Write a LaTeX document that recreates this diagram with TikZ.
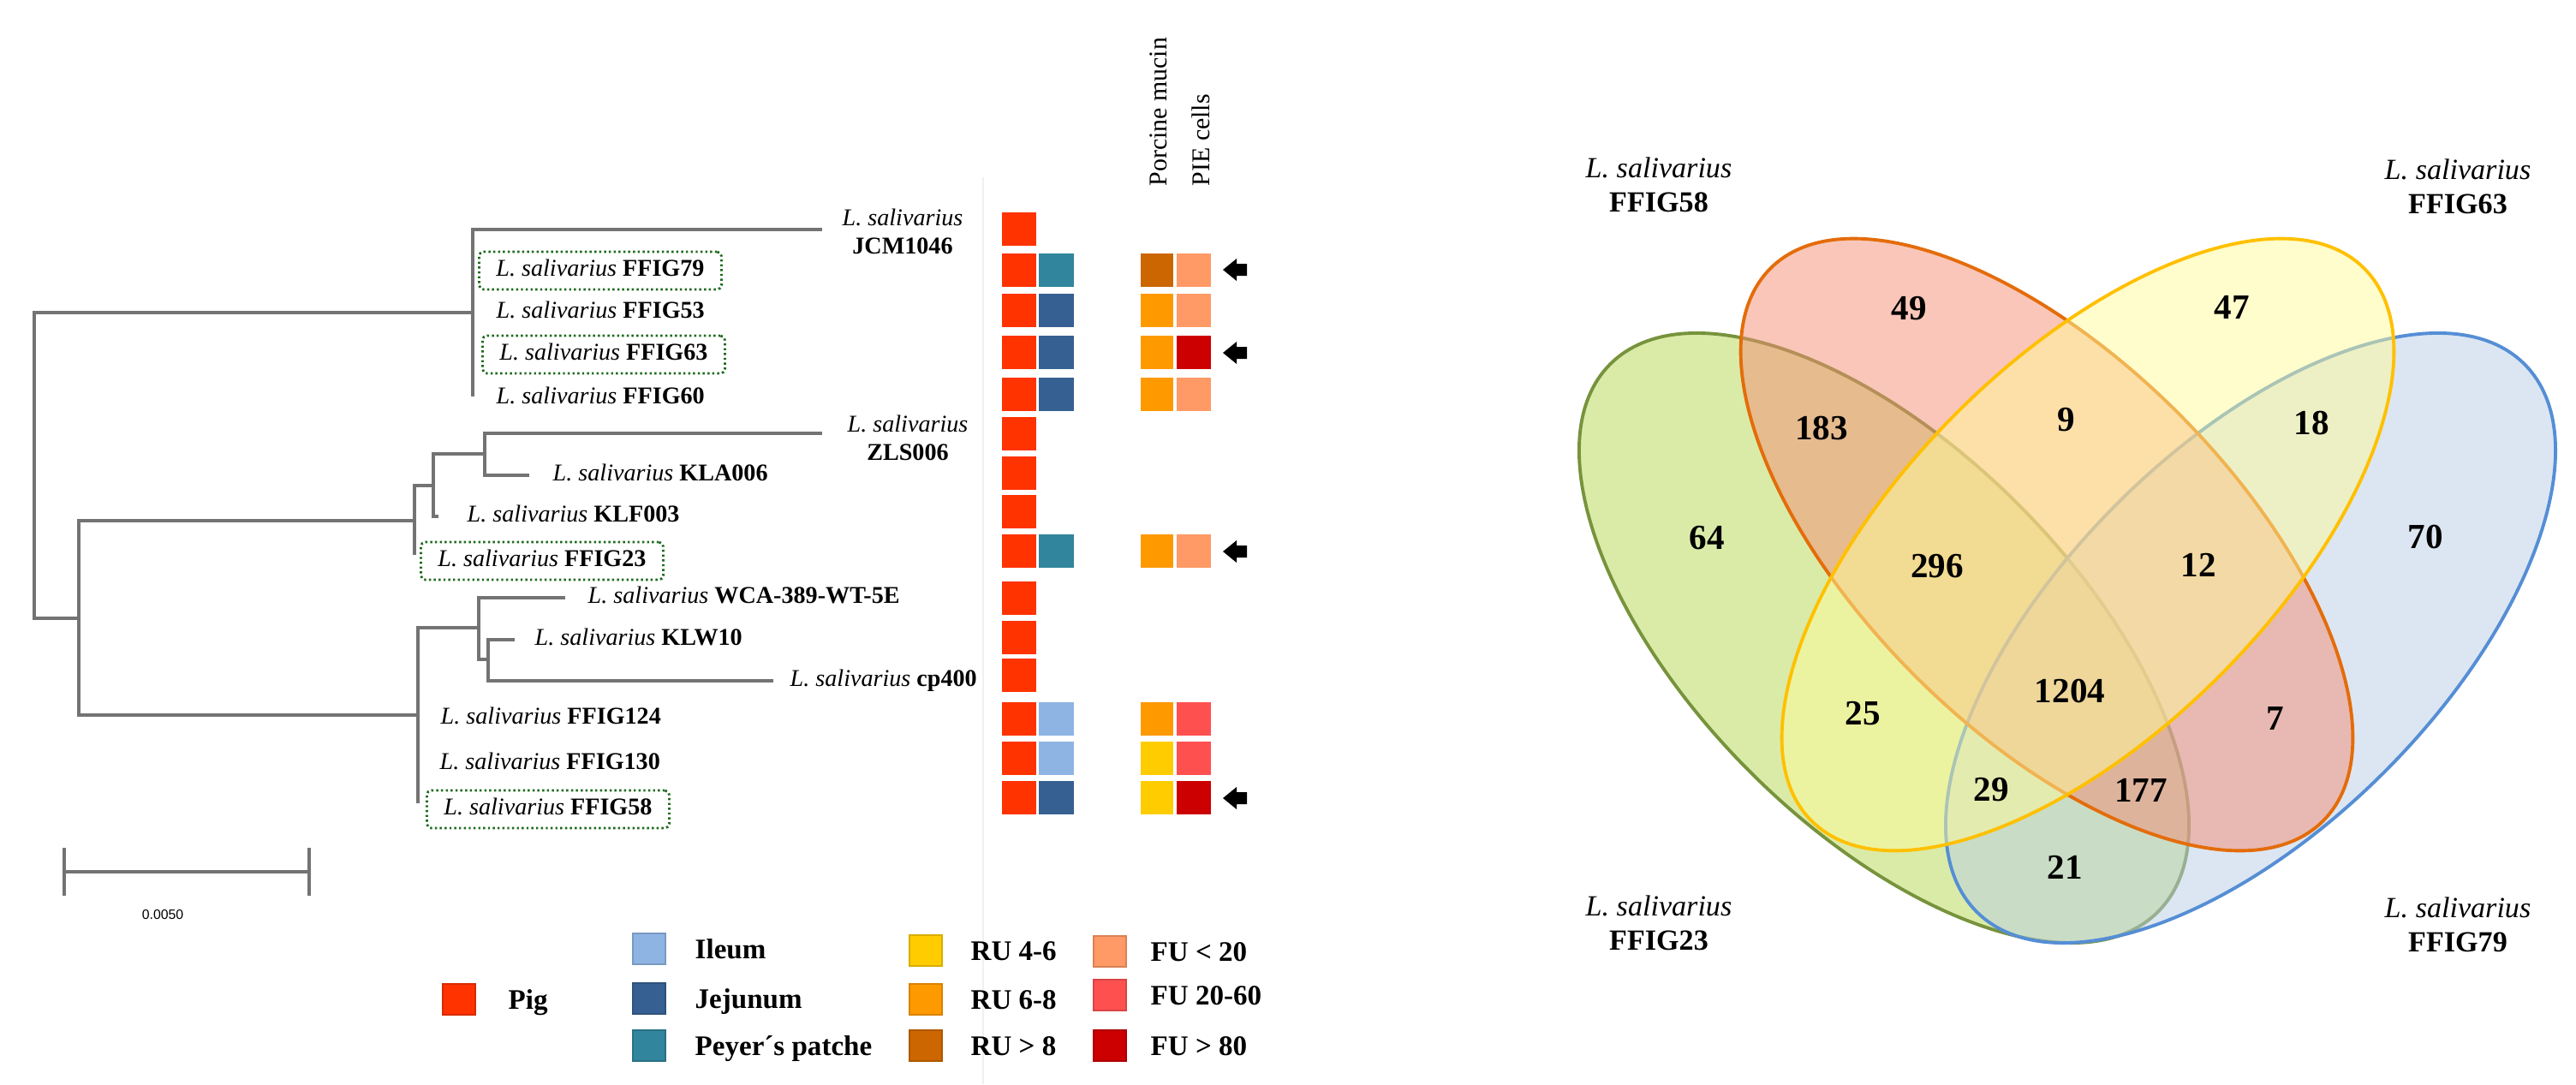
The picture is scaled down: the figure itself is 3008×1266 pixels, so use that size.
\documentclass[tikz,border=0pt]{standalone}
\usepackage{fontspec}
\setmainfont{Liberation Serif}
\setsansfont{Liberation Sans}

\definecolor{pigred}{HTML}{FF3300}
\definecolor{ileum}{HTML}{8EB4E3}
\definecolor{jejunum}{HTML}{366092}
\definecolor{peyer}{HTML}{31859C}
\definecolor{rulow}{HTML}{FFCC00}
\definecolor{rumid}{HTML}{FF9900}
\definecolor{ruhigh}{HTML}{CC6600}
\definecolor{fulow}{HTML}{FF9966}
\definecolor{fumid}{HTML}{FF5050}
\definecolor{fuhigh}{HTML}{CC0000}
\definecolor{boxgreen}{HTML}{1E6B1E}
\definecolor{vgreen}{HTML}{B5D751}
\definecolor{vgreenline}{HTML}{77933C}
\definecolor{vblue}{HTML}{B9CDE5}
\definecolor{vblueline}{HTML}{558ED5}
\definecolor{vred}{HTML}{F38D73}
\definecolor{vredline}{HTML}{E46C0A}
\definecolor{vyellow}{HTML}{FFFB99}
\definecolor{vyellowline}{HTML}{FFC000}

\newcommand{\lsal}[1]{\textit{L. salivarius} \textbf{#1}}

\begin{document}
\begin{tikzpicture}[x=0.01cm,y=-0.01cm,
    branch/.style={black!55,line width=0.9pt},
    leaf/.style={anchor=west,inner xsep=0.2cm,inner ysep=0.95mm,text height=1.9mm,text depth=0.6mm,font=\fontsize{8}{9.4}\selectfont},
    picked/.style={leaf,draw=boxgreen,dash pattern=on 0.7pt off 0.9pt,line width=0.8pt,rounded corners=1.5pt},
    key/.style={minimum width=0.38cm,minimum height=0.36cm,inner sep=0pt,line width=0.6pt},
    keytext/.style={anchor=base west,inner sep=0pt,font=\fontsize{9.4}{11}\selectfont\bfseries},
    setlabel/.style={align=center,inner sep=0pt,font=\fontsize{9.7}{11.4}\selectfont},
    count/.style={inner sep=0pt,font=\fontsize{11.7}{12}\selectfont\bfseries},
    vset/.style={fill opacity=0.5,line width=1.1pt}]
  \useasboundingbox (0,0) rectangle (3008,1266);

  \coordinate (r) at (40,543);
  \coordinate (a) at (552,365);
  \coordinate (b) at (92,722);
  \coordinate (b1) at (484,608);
  \coordinate (b2) at (488,835);
  \coordinate (c1) at (506,567);
  \coordinate (c2) at (566,530);
  \coordinate (d1) at (559,733);
  \coordinate (d2) at (570,770);
  \coordinate (tjcm) at (960,268);
  \coordinate (t60) at (552,463);
  \coordinate (tzls) at (960,506);
  \coordinate (tkla) at (618,555);
  \coordinate (tklf) at (512,603);
  \coordinate (t23) at (484,648);
  \coordinate (twca) at (660,698);
  \coordinate (tklw) at (601,747);
  \coordinate (tcp) at (903,795);
  \coordinate (t58) at (488,938);

  \draw[branch] (r) |- (a);
  \draw[branch] (r) |- (b);
  \draw[branch] (a) |- (tjcm);
  \draw[branch] (a) -- (t60);
  \draw[branch] (b) |- (b1);
  \draw[branch] (b) |- (b2);
  \draw[branch] (b1) |- (c1);
  \draw[branch] (b1) -- (t23);
  \draw[branch] (c1) |- (c2);
  \draw[branch] (c1) |- (tklf);
  \draw[branch] (c2) |- (tzls);
  \draw[branch] (c2) |- (tkla);
  \draw[branch] (b2) |- (d1);
  \draw[branch] (b2) -- (t58);
  \draw[branch] (d1) |- (twca);
  \draw[branch] (d1) |- (d2);
  \draw[branch] (d2) |- (tklw);
  \draw[branch] (d2) |- (tcp);

  \node[align=center,inner sep=0pt,font=\fontsize{8}{9.4}\selectfont] (njcm) at (1054,270) {\textit{L. salivarius}\\\textbf{JCM1046}};
  \node[picked] (n79) at (558,316) {\lsal{FFIG79}};
  \node[leaf] (n53) at (559,365) {\lsal{FFIG53}};
  \node[picked] (n63) at (562,414) {\lsal{FFIG63}};
  \node[leaf] (n60) at (559,465) {\lsal{FFIG60}};
  \node[align=center,inner sep=0pt,font=\fontsize{8}{9.4}\selectfont] (nzls) at (1060,511) {\textit{L. salivarius}\\\textbf{ZLS006}};
  \node[leaf] (nkla) at (625,555) {\lsal{KLA006}};
  \node[leaf] (nklf) at (525,603) {\lsal{KLF003}};
  \node[picked] (n23) at (490,655) {\lsal{FFIG23}};
  \node[leaf] (nwca) at (666,698) {\lsal{WCA-389-WT-5E}};
  \node[leaf] (nklw) at (604,747) {\lsal{KLW10}};
  \node[leaf] (ncp) at (902,795) {\lsal{cp400}};
  \node[leaf] (n124) at (494,839) {\lsal{FFIG124}};
  \node[leaf] (n130) at (493,892) {\lsal{FFIG130}};
  \node[picked] (n58) at (497,945) {\lsal{FFIG58}};

  \coordinate (sbl) at (75,1018);
  \coordinate (sbr) at (361,1018);
  \draw[branch] ([yshift=8]sbl) -- ([yshift=-8]sbl);
  \draw[branch] (sbl) -- (sbr);
  \draw[branch] ([yshift=8]sbr) -- ([yshift=-8]sbr);
  \node[font=\sffamily\fontsize{4.5}{5}\selectfont] (scale) at (190,1068) {0.0050};

  \draw[black!6] (1148,207) -- (1148,1266);

  \node[rotate=90,anchor=west,inner sep=0pt,font=\fontsize{8.5}{10}\selectfont] (hmucin) at (1353,218) {Porcine mucin};
  \node[rotate=90,anchor=west,inner sep=0pt,font=\fontsize{8.5}{10}\selectfont] (hpie) at (1402,218) {PIE cells};

  \foreach \yt in {248,296,343,392,441,487,533,578,624,679,725,769,820,866,912}
    \fill[pigred] (1170,\yt) rectangle ++(40,39);
  \foreach \yt/\col in {296/peyer,343/jejunum,392/jejunum,441/jejunum,624/peyer,820/ileum,866/ileum,912/jejunum}
    \fill[\col] (1213,\yt) rectangle ++(41,39);
  \foreach \yt/\col in {296/ruhigh,343/rumid,392/rumid,441/rumid,624/rumid,820/rumid,866/rulow,912/rulow}
    \fill[\col] (1332,\yt) rectangle ++(38,39);
  \foreach \yt/\col in {296/fulow,343/fulow,392/fuhigh,441/fulow,624/fulow,820/fumid,866/fumid,912/fuhigh}
    \fill[\col] (1374,\yt) rectangle ++(40,39);
  \foreach \c in {315,412,644,932}
    \fill (1428,\c) -- (1444,\c-13) -- (1444,\c-7) -- (1456,\c-7) -- (1456,\c+7) -- (1444,\c+7) -- (1444,\c+13) -- cycle;

  \node[key,fill=pigred,draw=pigred!85!black] (kpig) at (536,1167) {};
  \node[keytext] (tpig) at (593,1178) {Pig};
  \node[key,fill=ileum,draw=ileum!85!black] (kileum) at (758,1108) {};
  \node[keytext] (tileum) at (811,1119) {Ileum};
  \node[key,fill=jejunum,draw=jejunum!85!black] (kjej) at (758,1166) {};
  \node[keytext] (tjej) at (811,1177) {Jejunum};
  \node[key,fill=peyer,draw=peyer!85!black] (kpey) at (758,1221) {};
  \node[keytext] (tpey) at (811,1232) {Peyer´s patche};
  \node[key,fill=rulow,draw=rulow!85!black] (krul) at (1081,1110) {};
  \node[keytext] (trul) at (1133,1121) {RU 4-6};
  \node[key,fill=rumid,draw=rumid!85!black] (krum) at (1081,1167) {};
  \node[keytext] (trum) at (1133,1178) {RU 6-8};
  \node[key,fill=ruhigh,draw=ruhigh!85!black] (kruh) at (1081,1221) {};
  \node[keytext] (truh) at (1133,1232) {RU > 8};
  \node[key,fill=fulow,draw=fulow!85!black] (kful) at (1296,1111) {};
  \node[keytext] (tful) at (1343,1122) {FU < 20};
  \node[key,fill=fumid,draw=fumid!85!black] (kfum) at (1296,1162) {};
  \node[keytext] (tfum) at (1343,1173) {FU 20-60};
  \node[key,fill=fuhigh,draw=fuhigh!85!black] (kfuh) at (1296,1221) {};
  \node[keytext] (tfuh) at (1343,1232) {FU > 80};

  \draw[vset,fill=vgreen,draw=vgreenline,rotate around={-45:(2200,745)}] (2200,745) ellipse [x radius=4.52cm,y radius=2.21cm];
  \draw[vset,fill=vblue,draw=vblueline,rotate around={45:(2628,745)}] (2628,745) ellipse [x radius=4.52cm,y radius=2.21cm];
  \draw[vset,fill=vred,draw=vredline,rotate around={-45:(2390,636)}] (2390,636) ellipse [x radius=4.56cm,y radius=2.17cm];
  \draw[vset,fill=vyellow,draw=vyellowline,rotate around={45:(2438,636)}] (2438,636) ellipse [x radius=4.56cm,y radius=2.17cm];

  \node[setlabel] (s58) at (1937,216) {\textit{L. salivarius}\\\textbf{FFIG58}};
  \node[setlabel] (s63) at (2870,218) {\textit{L. salivarius}\\\textbf{FFIG63}};
  \node[setlabel] (s23) at (1937,1078) {\textit{L. salivarius}\\\textbf{FFIG23}};
  \node[setlabel] (s79) at (2870,1080) {\textit{L. salivarius}\\\textbf{FFIG79}};

  \node[count] (v49) at (2229,360) {49};
  \node[count] (v47) at (2606,359) {47};
  \node[count] (v183) at (2127,500) {183};
  \node[count] (v9) at (2413,490) {9};
  \node[count] (v18) at (2699,494) {18};
  \node[count] (v64) at (1993,628) {64};
  \node[count] (v296) at (2262,661) {296};
  \node[count] (v12) at (2567,660) {12};
  \node[count] (v70) at (2832,627) {70};
  \node[count] (v1204) at (2417,807) {1204};
  \node[count] (v25) at (2175,833) {25};
  \node[count] (v7) at (2657,839) {7};
  \node[count] (v29) at (2325,922) {29};
  \node[count] (v177) at (2500,923) {177};
  \node[count] (v21) at (2411,1013) {21};
\end{tikzpicture}
\end{document}
